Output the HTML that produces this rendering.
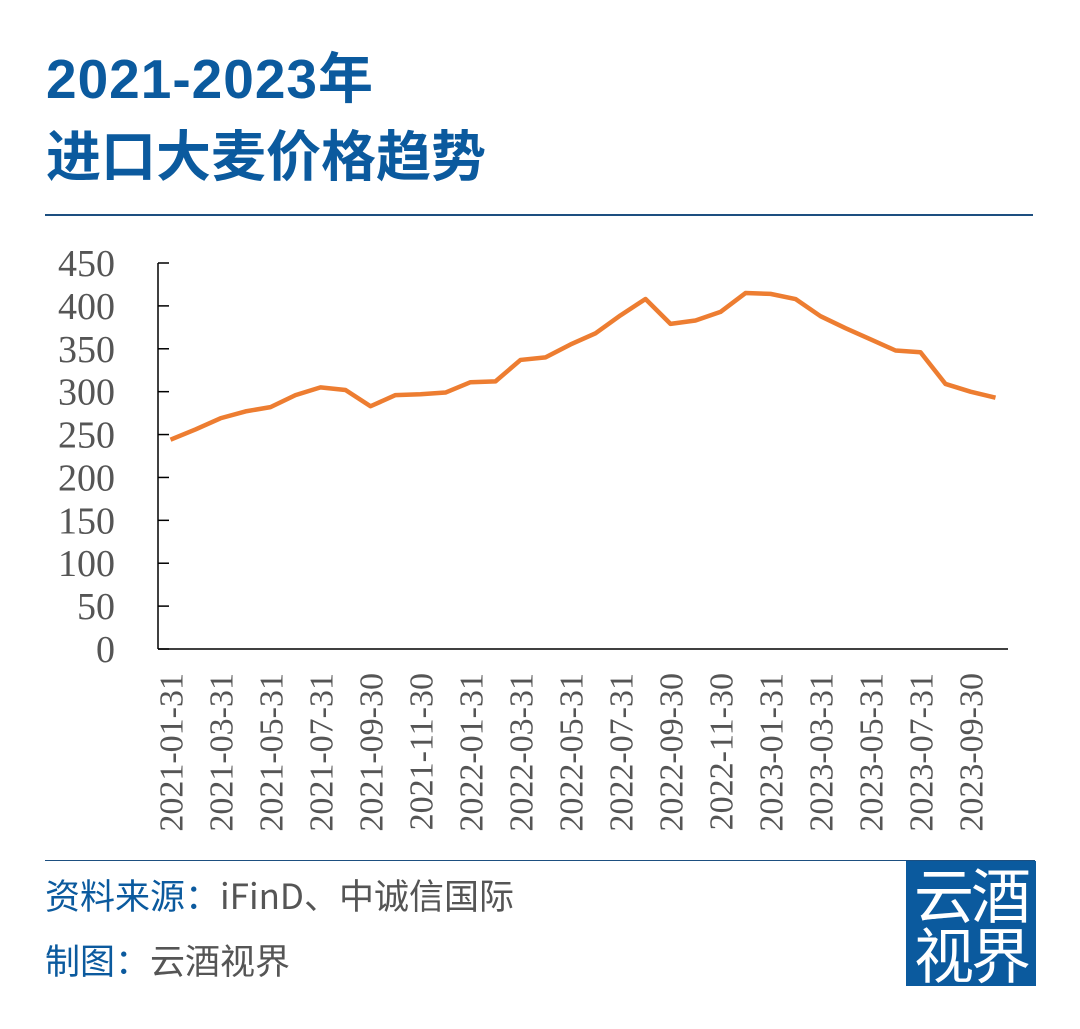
<!DOCTYPE html>
<html><head><meta charset="utf-8">
<style>
body{margin:0;background:#fff;width:1080px;height:1029px;overflow:hidden;position:relative;font-family:"Liberation Sans","Noto Sans CJK SC",sans-serif}
.t{position:absolute;left:46px;color:#0b5a9e;font-weight:bold;font-size:55px;line-height:1}
.src{position:absolute;left:45px;font-size:35px;color:#555;line-height:1;font-family:"Noto Sans CJK SC",sans-serif}
.src b{color:#0b5a9e;font-weight:normal}
</style></head><body>
<div class="t" style="top:52px;letter-spacing:1px">2021-2023年</div>
<div class="t" style="top:130px">进口大麦价格趋势</div>
<div style="position:absolute;left:45px;top:214px;width:988px;height:2px;background:#1d4f80"></div>
<svg width="1080" height="1029" style="position:absolute;left:0;top:0" id="c"></svg>
<div style="position:absolute;left:45px;top:860px;width:990px;height:1px;background:#1d4f80"></div>
<div class="src" style="top:877px"><b>资料来源：</b>iFinD、中诚信国际</div>
<div class="src" style="top:942px"><b>制图：</b>云酒视界</div>
<div style="position:absolute;left:906px;top:861px;width:130px;height:125px;background:#0b5a9e;color:#fff;font-family:'Noto Sans CJK SC',sans-serif;font-size:60px;line-height:60px;text-align:center;letter-spacing:-3px;padding-top:2px;box-sizing:border-box">云酒<br>视界</div>
<script>
const values=[244,256,269,277,282,296,305,302,283,296,297,299,311,312,337,340,355,368,389,408,379,383,393,415,414,408,388,374,361,348,346,309,300,293];
const startYear=2021;
const yTicks=[0,50,100,150,200,250,300,350,400,450];
const svg=document.getElementById('c');
const NS='http://www.w3.org/2000/svg';
const x0=158,band=25,yb=649,yt=263,ymax=450;
const X=i=>x0+band/2+i*band;
const Y=v=>yb-(v/ymax)*(yb-yt);
function el(t,a){const e=document.createElementNS(NS,t);for(const k in a)e.setAttribute(k,a[k]);svg.appendChild(e);return e;}
const ya=el('line',{x1:x0,y1:yt,x2:x0,y2:yb,stroke:'#000','stroke-width':1.5});


const xa=el('line',{x1:x0,y1:yb,x2:x0+values.length*band,y2:yb,stroke:'#000','stroke-width':1.5});


yTicks.forEach(v=>{
 const tk=el('line',{x1:x0,y1:Y(v),x2:x0+11,y2:Y(v),stroke:'#000','stroke-width':1.5});
 
 
 const t=el('text',{x:115,y:Y(v)+13,'text-anchor':'end','font-family':'Liberation Serif, serif','font-size':38,fill:'#555'});
 t.textContent=String(v);
 
 
});
const mdays=[31,28,31,30,31,30,31,31,30,31,30,31];
values.forEach((v,i)=>{
 if(i%2) return;
 const y=startYear+Math.floor(i/12),m=i%12;
 const lbl=y+'-'+String(m+1).padStart(2,'0')+'-'+mdays[m];
 const tx=X(i)+12;
 const t=el('text',{x:tx,y:673,'text-anchor':'end','font-family':'Liberation Serif, serif','font-size':34,fill:'#555',transform:`rotate(-90 ${tx} 673)`});
 t.textContent=lbl;
 
 
});
const p=el('polyline',{points:values.map((v,i)=>X(i)+','+Y(v)).join(' '),fill:'none',stroke:'#ed7d31','stroke-width':4.5,'stroke-linejoin':'round'});


</script>
</body></html>
